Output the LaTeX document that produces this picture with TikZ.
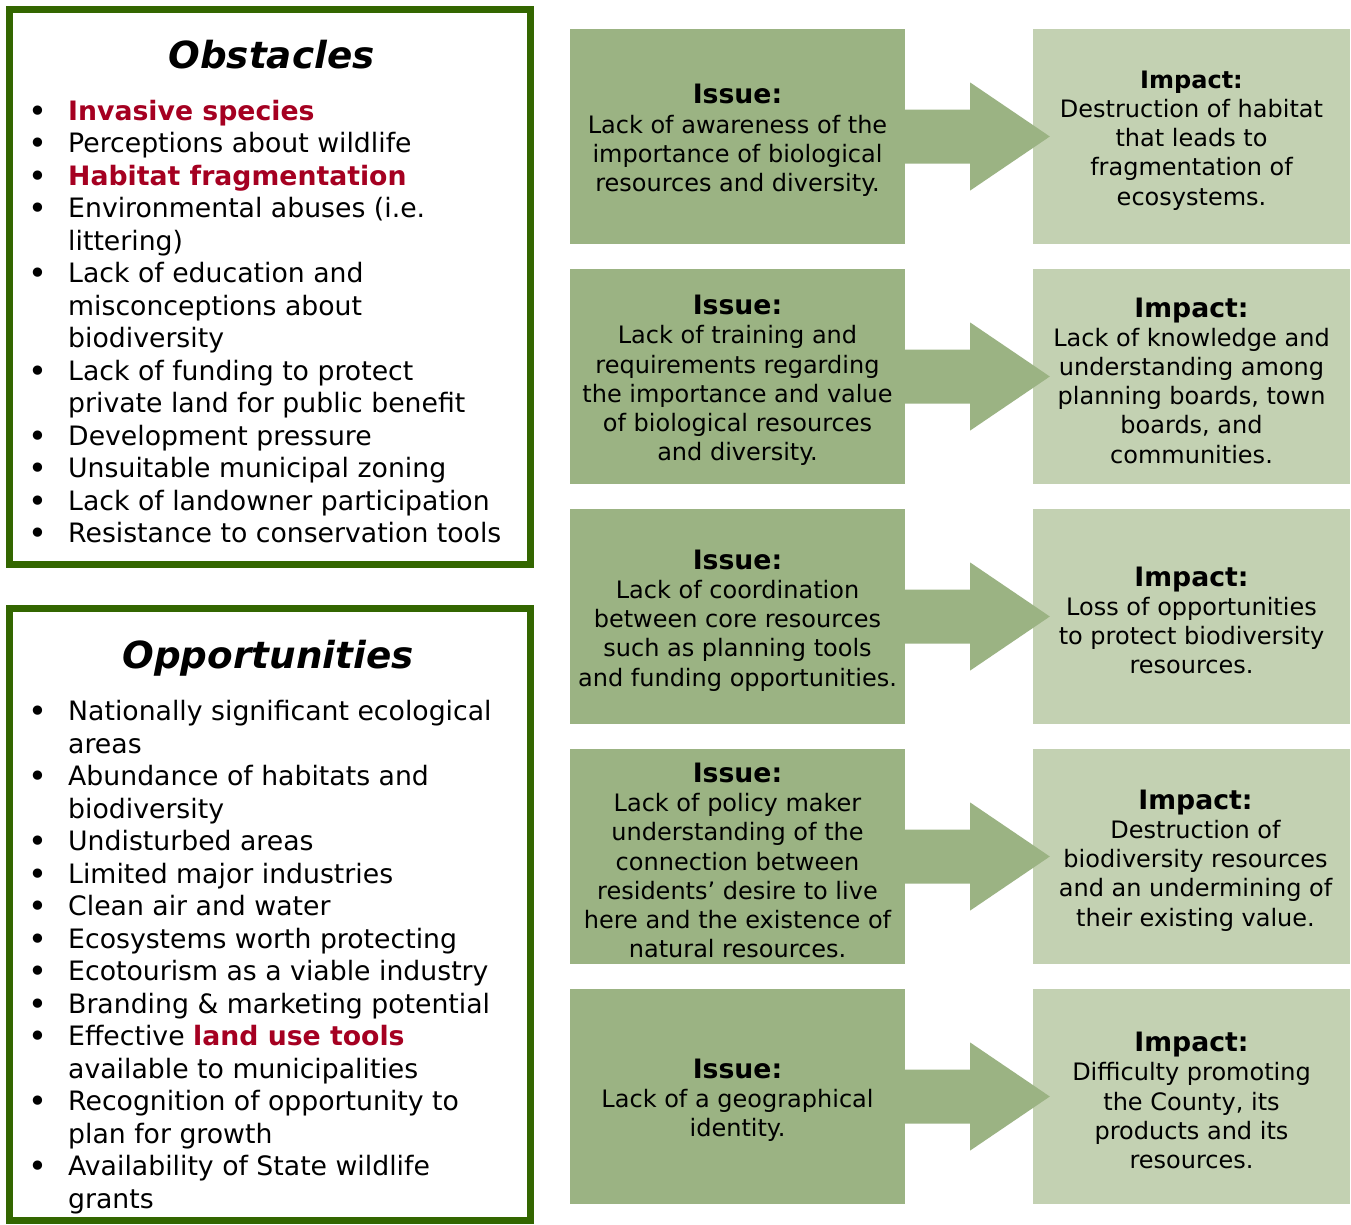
\documentclass[tikz,border=0pt]{standalone}
\usepackage{fontspec}
\setmainfont{DejaVu Sans}
\usetikzlibrary{calc}
\definecolor{boxgreen}{RGB}{51,102,0}
\definecolor{issuecol}{RGB}{155,179,131}
\definecolor{impactcol}{RGB}{195,209,178}
\definecolor{redtxt}{RGB}{165,0,33}
\newcommand{\bl}{\leavevmode\llap{\makebox[39.4pt][l]{\raisebox{-2pt}{\fontsize{32}{32}\selectfont•}}}}
\newcommand{\hl}[1]{{\bfseries\color{redtxt}#1}}
\tikzset{
  listbox/.style={draw=boxgreen, line width=7pt, fill=white, inner sep=0pt},
  titletxt/.style={anchor=base, inner sep=0pt, font=\fontsize{37.3}{40}\selectfont\bfseries\itshape},
  listtxt/.style={anchor=base west, inner sep=0pt},
  issuebox/.style={fill=issuecol, minimum width=335pt, minimum height=215pt, inner sep=0pt},
  impactbox/.style={fill=impactcol, minimum width=317pt, minimum height=215pt, inner sep=0pt},
  boxtxt/.style={inner sep=0pt, align=center, font=\fontsize{24}{29.2}\selectfont},
  arrowshape/.style={fill=issuecol, draw=none}
}
\newcommand{\hd}[1]{{\fontsize{26.7}{29.2}\selectfont\bfseries #1}}
\newcommand{\listfont}{\fontsize{26.7}{32.5}\selectfont}
\begin{document}
\begin{tikzpicture}[x=1pt,y=-1pt]
\useasboundingbox (0,0) rectangle (1351,1224);
\fill[white] (0,0) rectangle (1351,1224);

% left boxes
\node[listbox, minimum width=521pt, minimum height=555pt] (obs) at (270,287) {};
\node[listbox, minimum width=521pt, minimum height=612pt] (opp) at (270,914.5) {};

\node[titletxt] (obst) at (271.5,68) {Obstacles};
\node[titletxt] (oppt) at (268,668) {Opportunities};

\node[listtxt] (obsl) at (68,120) {\parbox[t]{460pt}{\listfont\raggedright
\bl\hl{Invasive species}\\
\bl Perceptions about wildlife\\
\bl\hl{Habitat fragmentation}\\
\bl Environmental abuses (i.e.\\
littering)\\
\bl Lack of education and\\
misconceptions about\\
biodiversity\\
\bl Lack of funding to protect\\
private land for public benefit\\
\bl Development pressure\\
\bl Unsuitable municipal zoning\\
\bl Lack of landowner participation\\
\bl Resistance to conservation tools}};

\node[listtxt] (oppl) at (68,720.5) {\parbox[t]{460pt}{\listfont\raggedright
\bl Nationally significant ecological\\
areas\\
\bl Abundance of habitats and\\
biodiversity\\
\bl Undisturbed areas\\
\bl Limited major industries\\
\bl Clean air and water\\
\bl Ecosystems worth protecting\\
\bl Ecotourism as a viable industry\\
\bl Branding \& marketing potential\\
\bl Effective \hl{land use tools}\\
available to municipalities\\
\bl Recognition of opportunity to\\
plan for growth\\
\bl Availability of State wildlife\\
grants}};

% boxes
\foreach \k/\yc in {1/136.5,2/376.5,3/616.5,4/856.5,5/1096.5}{
  \node[issuebox] (i\k) at (737.5,\yc) {};
  \node[impactbox] (m\k) at (1191.5,\yc) {};
}

% issue texts
\node[boxtxt] (i1t) at ($(i1.center)+(0,4)$) {\hd{Issue:}\\Lack of awareness of the\\importance of biological\\resources and diversity.};
\node[boxtxt] (i2t) at ($(i2.center)+(0,4)$) {\hd{Issue:}\\Lack of training and\\requirements regarding\\the importance and value\\of biological resources\\and diversity.};
\node[boxtxt] (i3t) at ($(i3.center)+(0,4)$) {\hd{Issue:}\\Lack of coordination\\between core resources\\such as planning tools\\and funding opportunities.};
\node[boxtxt] (i4t) at ($(i4.center)+(0,4)$) {\hd{Issue:}\\Lack of policy maker\\understanding of the\\connection between\\residents’ desire to live\\here and the existence of\\natural resources.};
\node[boxtxt] (i5t) at ($(i5.center)+(0,4)$) {\hd{Issue:}\\Lack of a geographical\\identity.};

% impact texts
\node[boxtxt] (m1t) at ($(m1.center)+(0,4)$) {{\bfseries Impact:}\\Destruction of habitat\\that leads to\\fragmentation of\\ecosystems.};
\node[boxtxt] (m2t) at ($(m2.center)+(0,4)$) {\hd{Impact:}\\Lack of knowledge and\\understanding among\\planning boards, town\\boards, and\\communities.};
\node[boxtxt] (m3t) at ($(m3.center)+(0,4)$) {\hd{Impact:}\\Loss of opportunities\\to protect biodiversity\\resources.};
\node[boxtxt] (m4t) at ($(m4.center)+(4,4)$) {\hd{Impact:}\\Destruction of\\biodiversity resources\\and an undermining of\\their existing value.};
\node[boxtxt] (m5t) at ($(m5.center)+(0,4)$) {\hd{Impact:}\\Difficulty promoting\\the County, its\\products and its\\resources.};

% arrows
\foreach \k in {1,...,5}{
  \fill[arrowshape] ($(i\k.east)+(0,-27)$) -- ($(i\k.east)+(65,-27)$) -- ($(i\k.east)+(65,-54)$)
    -- ($(m\k.west)+(17,0)$) -- ($(i\k.east)+(65,54)$) -- ($(i\k.east)+(65,27)$)
    -- ($(i\k.east)+(0,27)$) -- cycle;
}
\end{tikzpicture}
\end{document}
